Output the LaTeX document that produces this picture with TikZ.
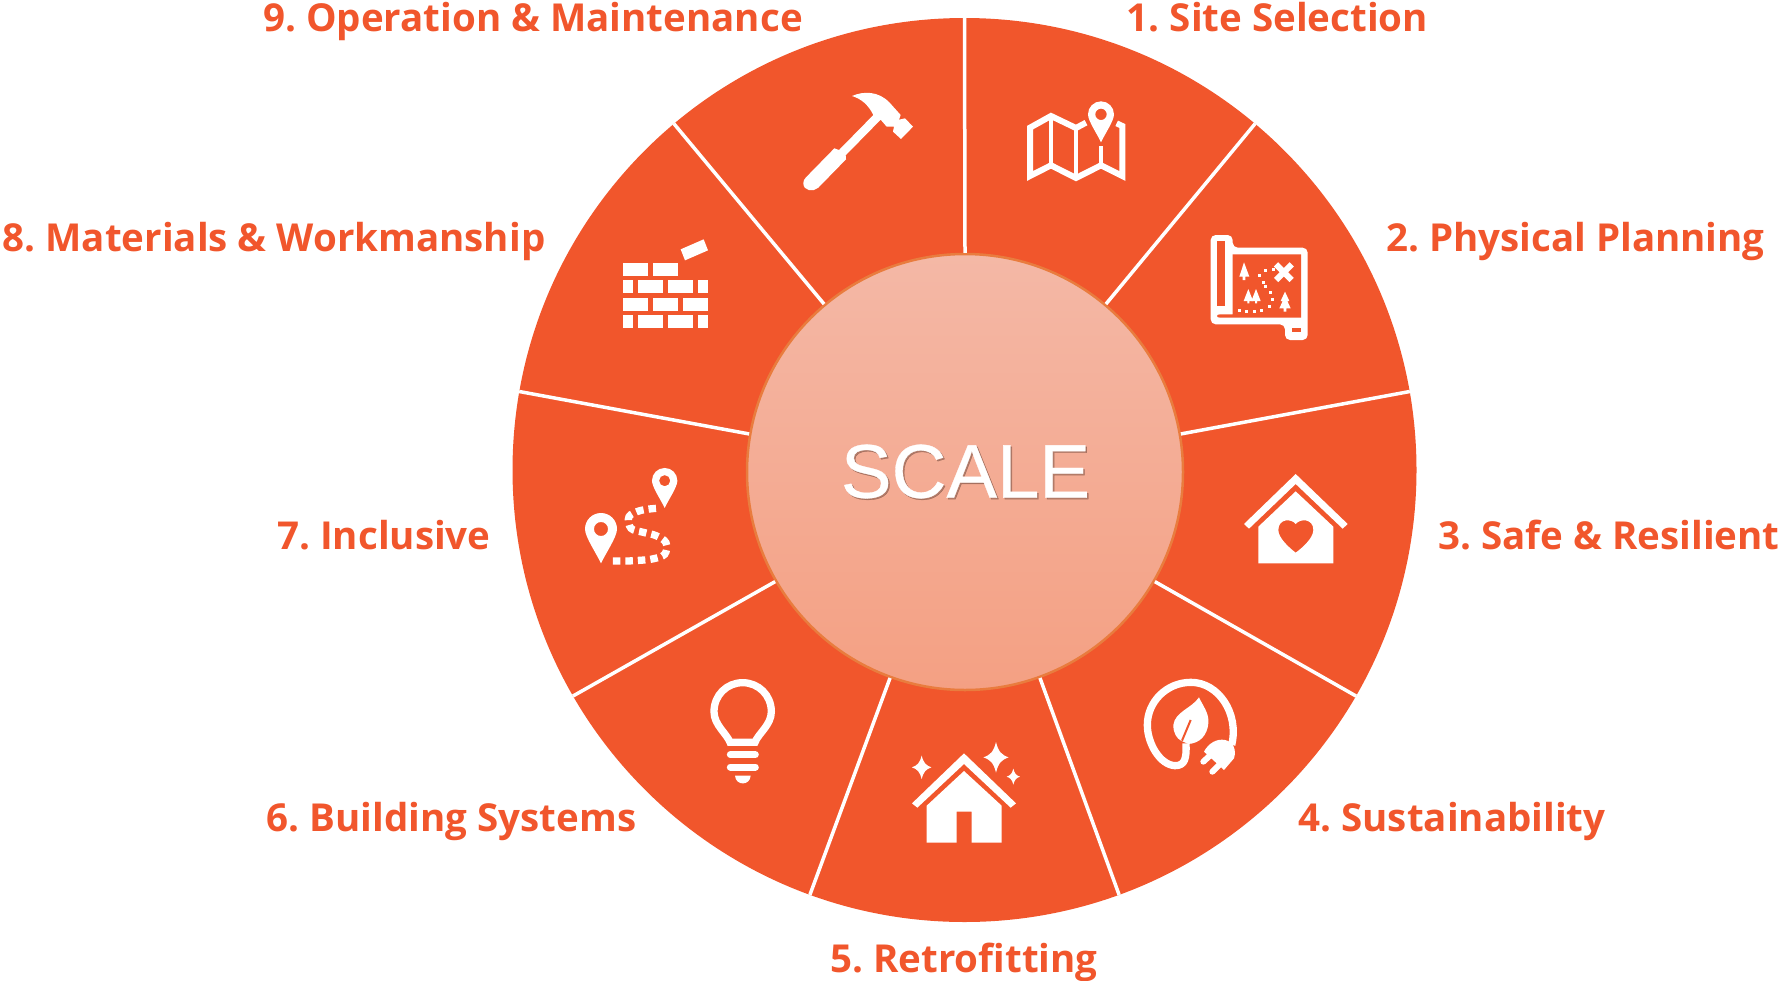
\documentclass[tikz,border=0pt]{standalone}
\usepackage{fontspec}
\setmainfont{Open Sans}
\newfontfamily\hubfont[FakeBold=.4]{Liberation Sans}
\definecolor{wheelred}{HTML}{F1562C}
\definecolor{hubtop}{HTML}{F4B8A6}
\definecolor{hubbottom}{HTML}{F4A083}
\definecolor{hubrim}{HTML}{E97C3E}
\frenchspacing
\tikzset{
	label/.style={text=wheelred, font=\fontsize{38.5}{40}\selectfont\bfseries, anchor=base, inner sep=0pt},
	divider/.style={draw=white, line width=3.5pt},
	icon/.style={fill=white},
	iconline/.style={draw=white, line width=6pt},
	cutout/.style={fill=wheelred},
	mappin/.pic={\fill[icon, even odd rule] (-1,0) arc[start angle=180, end angle=360, radius=1] .. controls (1,.5) and (.3,1.5) .. (0,2.15) .. controls (-.3,1.5) and (-1,.5) .. (-1,0) -- cycle (0,0) circle[radius=.44];},
	sparkle/.pic={\fill[icon] (0,-1.15) .. controls (.18,-.42) and (.42,-.18) .. (.95,0) .. controls (.42,.18) and (.18,.42) .. (0,1.15) .. controls (-.18,.42) and (-.42,.18) .. (-.95,0) .. controls (-.42,-.18) and (-.18,-.42) .. (0,-1.15) -- cycle;}
}

\begin{document}
\begin{tikzpicture}[x=1pt, y=-1pt]
	\useasboundingbox (0,0) rectangle (1785,980);
	\node[circle, fill=wheelred, minimum size=904pt, inner sep=0pt] (wheel) at (964.5,470) {};
	\node[circle, draw=hubrim, line width=2.5pt, top color=hubtop, bottom color=hubbottom, minimum size=436pt, inner sep=0pt] (hub) at (965,472) {};
	\foreach \a in {90,50,10,-30,-70,-110,-150,170,130}
		\draw[divider] (hub.\a) -- (wheel.\a);
	\node[font=\hubfont\fontsize{76}{76}\selectfont, text=black!60!hubbottom, opacity=.45] (hubshadow) at (967,473) {SCALE};
	\node[font=\hubfont\fontsize{76}{76}\selectfont, text=white] (hubtext) at (965.5,471.5) {SCALE};

	\node[label] (site) at (1277.5,31) {1. Site Selection};
	\node[label] (planning) at (1575.5,251) {2. Physical Planning};
	\node[label] (safe) at (1609,549) {3. Safe \& Resilient};
	\node[label] (sustain) at (1452,831) {4. Sustainability};
	\node[label] (retrofit) at (964,972) {5. Retrofitting};
	\node[label] (systems) at (451.5,831) {6. Building Systems};
	\node[label] (inclusive) at (384,549) {7. Inclusive};
	\node[label] (materials) at (274,251) {8. Materials \& Workmanship};
	\node[label] (operation) at (533,31) {9. Operation \& Maintenance};

	\begin{scope}[shift={(790,85)}, scale=1/3]
		\fill[icon] (186,33) .. controls (220,18) and (265,18) .. (298,52) -- (332,90) -- (327,104) -- (345,100) -- (369,125) -- (333,162) -- (309,140) -- (312,125) -- (290,125) -- (272,104) -- (167,211) -- (168,223) -- (85,308) .. controls (70,322) and (40,318) .. (40,295) .. controls (40,288) and (42,283) .. (47,278) -- (133,190) -- (147,195) -- (250,90) .. controls (235,60) and (215,42) .. (186,33) -- cycle;
		\draw[iconline] (888,113) -- (858,129) -- (783,93) -- (720,128) -- (720,273) -- (783,241) -- (858,279) -- (933,241) -- (997,273) -- (997,123) -- (980,115);
		\draw[iconline, line width=4.5pt] (783,93) -- (783,241) (858,129) -- (858,279) (933,183) -- (933,241);
		\pic[scale=13] at (933,88) {mappin};
	\end{scope}

	\begin{scope}[shift={(1200,225)}, scale=1/3]
		\fill[icon, rounded corners=5pt] (32,30) -- (98,30) -- (98,68) -- (323,68) -- (323,345) -- (255,345) -- (255,298) -- (32,298) -- cycle;
		\fill[cutout] (98,88) -- (303,88) -- (303,278) -- (60,278) .. controls (48,278) and (48,268) .. (60,268) -- (98,268) -- cycle;
		\fill[cutout] (52,48) rectangle (75,242);
		\fill[cutout] (277,308) rectangle (303,322);
		\fill[icon] (132,112) -- (148,155) -- (136,155) -- (136,165) -- (128,165) -- (128,155) -- (118,155) -- cycle;
		\foreach \t in {145,168}
			\fill[icon] (\t,192) -- (\t+14,228) -- (\t+3,228) -- (\t+3,235) -- (\t-3,235) -- (\t-3,228) -- (\t-14,228) -- cycle;
		\fill[icon] (255,200) -- (268,228) -- (262,228) -- (272,250) -- (259,250) -- (259,260) -- (251,260) -- (251,250) -- (238,250) -- (248,228) -- (242,228) -- cycle;
		\draw[iconline] (228,118) -- (275,165) (275,118) -- (228,165);
		\foreach \dx/\dy in {220/132,197/135,178/150,190/172,195/185,210/203,216/222,207/245,185/255,163/258,140/258,118/257}
			\fill[icon] (\dx-4.5,\dy-4.5) rectangle (\dx+4.5,\dy+4.5);
	\end{scope}

	\begin{scope}[shift={(1120,450)}, scale=1/3]
		\fill[icon] (527,72) -- (683,222) -- (668,236) -- (527,102) -- (387,236) -- (372,222) -- cycle;
		\fill[icon, even odd rule] (527,124) -- (640,230) -- (640,340) -- (415,340) -- (415,230) -- cycle (527,222) .. controls (515,205) and (475,205) .. (475,240) .. controls (475,265) and (510,295) .. (527,308) .. controls (545,295) and (580,265) .. (580,240) .. controls (580,205) and (540,205) .. (527,222) -- cycle;
		\draw[iconline, line width=7.3pt] (335,885) .. controls (358,790) and (295,697) .. (213,697) .. controls (140,697) and (82,755) .. (82,825) .. controls (82,880) and (120,945) .. (165,947) .. controls (195,947) and (200,925) .. (198,880);
		\fill[icon] (237,742) .. controls (250,770) and (268,790) .. (265,820) .. controls (262,855) and (240,880) .. (205,882) -- (183,872) .. controls (170,865) and (160,850) .. (160,825) .. controls (165,785) and (215,775) .. (237,742) -- cycle;
		\draw[draw=wheelred, line width=2pt] (186,872) -- (212,810);
		\fill[icon] (252,905) .. controls (265,880) and (290,865) .. (315,870) .. controls (340,875) and (350,900) .. (342,925) -- (312,960) -- cycle;
		\draw[iconline, line cap=round] (250,935) -- (275,912) (277,965) -- (302,940);
	\end{scope}

	\begin{scope}[shift={(680,660)}, scale=1/3]
		\fill[icon] (852,280) -- (1008,430) -- (992,443) -- (852,312) -- (712,443) -- (696,430) -- cycle;
		\fill[icon] (852,333) -- (965,437) -- (965,548) -- (875,548) -- (875,455) -- (830,455) -- (830,548) -- (740,548) -- (740,437) -- cycle;
		\pic[scale=13.3] at (948,292) {sparkle};
		\pic[scale=10.3] at (725,322) {sparkle};
		\pic[scale=7] at (1000,350) {sparkle};
		\draw[iconline, line width=7.3pt] (150,247) -- (225,247) .. controls (235,220) and (274,195) .. (274,155) .. controls (274,105) and (235,68) .. (188,68) .. controls (141,68) and (102,105) .. (102,155) .. controls (102,195) and (140,220) .. (150,247) -- cycle;
		\draw[iconline, line width=7pt, line cap=round] (151,284) -- (226,284) (151,321) -- (226,321);
		\fill[icon] (165,347) -- (212,347) .. controls (210,378) and (167,378) .. (165,347) -- cycle;
	\end{scope}

	\begin{scope}[shift={(560,220)}, scale=1/3]
		\foreach \ya/\yb/\xs in {129/168/{189/264,279/354},180/219/{189/219,234/309,324/399,414/444},234/273/{189/264,279/354,369/444},285/324/{189/219,234/309,324/399,414/444}}
			\foreach \xa/\xb in \xs
				\fill[icon] (\xa,\ya) rectangle (\xb,\yb);
		\fill[icon] (362,88) -- (431,58) -- (444,91) -- (375,121) -- cycle;
		\pic[scale=12.7] at (314,782) {mappin};
		\pic[scale=16] at (123,927) {mappin};
		\draw[iconline, line width=7.3pt, dash pattern=on 7.5pt off 5pt] plot[smooth, tension=.6] coordinates {(288,865) (240,872) (207,890) (213,925) (250,937) (288,947) (318,968) (314,1003) (277,1017) (238,1021) (200,1023) (153,1023)};
	\end{scope}
\end{tikzpicture}
\end{document}
